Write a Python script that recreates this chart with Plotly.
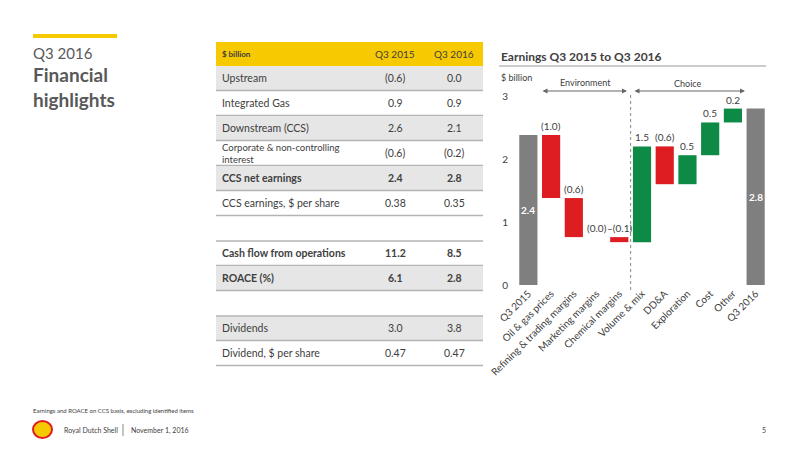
import plotly.graph_objects as go

# ---- data ----
steps = ["Q3 2015", "Oil & gas prices", "Refining & trading margins", "Marketing margins",
         "Chemical margins", "Volume & mix", "DD&A", "Exploration", "Cost", "Other", "Q3 2016"]
step_values = [2.38, -1.0, -0.62, 0.0, -0.08, 1.52, -0.6, 0.46, 0.52, 0.22, 0]
step_measure = ["absolute", "relative", "relative", "relative", "relative", "relative",
                "relative", "relative", "relative", "relative", "total"]
step_labels = ["2.4", "(1.0)", "(0.6)", "(0.0)", "–(0.1)", "1.5", "(0.6)", "0.5", "0.5", "0.2", "2.8"]

row_labels = ["Upstream", "Integrated Gas", "Downstream (CCS)", "Corporate & non-controlling<br>interest",
              "CCS net earnings", "CCS earnings, $ per share", None,
              "Cash flow from operations", "ROACE (%)", None, "Dividends", "Dividend, $ per share"]
col_q3_2015 = ["(0.6)", "0.9", "2.6", "(0.6)", "2.4", "0.38", None, "11.2", "6.1", None, "3.0", "0.47"]
col_q3_2016 = ["0.0", "0.9", "2.1", "(0.2)", "2.8", "0.35", None, "8.5", "2.8", None, "3.8", "0.47"]
row_bold = [False, False, False, False, True, False, None, True, True, None, False, False]
row_grey = [True, False, True, False, True, False, None, False, True, None, True, False]

FONT = "Lato"
TXT = "#404040"
W, H = 800, 450
def px(x): return x / W
def py(y): return 1 - y / H

fig = go.Figure()
fig.add_trace(go.Waterfall(
    x=steps, y=step_values, measure=step_measure,
    increasing=dict(marker=dict(color="#0e8a47")),
    decreasing=dict(marker=dict(color="#dd1d21")),
    totals=dict(marker=dict(color="#7f7f7f")),
    connector=dict(visible=False), cliponaxis=False, hoverinfo="skip",
))

shapes, ann = [], []
# value labels positioned from the running total
run = 0
for cat, v, m, lab in zip(steps, step_values, step_measure, step_labels):
    if m == "relative":
        top = max(run, run + v)
        run += v
        ann.append(dict(x=cat, y=top, xref="x", yref="y", xanchor="center", yanchor="bottom", yshift=1,
                        text=lab, font=dict(family=FONT, size=10, color=TXT)))
    else:
        if m == "absolute":
            run = v
        ann.append(dict(x=cat, y=run / 2, xref="x", yref="y", xanchor="center", yanchor="middle",
                        text=f"<b>{lab}</b>", font=dict(family=FONT, size=10, color="white")))

# left title block
shapes.append(dict(type="rect", xref="paper", yref="paper", x0=px(33), x1=px(117), y0=py(38), y1=py(34),
                   fillcolor="#f7c900", line_width=0))
ann.append(dict(x=px(31), y=py(53), text="Q3 2016", font=dict(family=FONT, size=15, color="#595959")))
ann.append(dict(x=px(31), y=py(87), text="<b>Financial<br>highlights</b>",
                font=dict(family=FONT, size=19, color="#595959")))

# table
tx0, tx1 = 216, 483
c1, c2 = 395, 454
shapes.append(dict(type="rect", xref="paper", yref="paper", x0=px(tx0), x1=px(tx1), y0=py(66), y1=py(42),
                   fillcolor="#f7c900", line_width=0))
ann.append(dict(x=px(220), y=py(54), text="<b>$ billion</b>", font=dict(family=FONT, size=8, color=TXT)))
ann.append(dict(x=px(c1), y=py(54), xanchor="center", text="Q3 2015", font=dict(family=FONT, size=10, color=TXT)))
ann.append(dict(x=px(c2), y=py(54), xanchor="center", text="Q3 2016", font=dict(family=FONT, size=10, color=TXT)))
y = 66
prev = "x"
for lab, a, b, bold, grey in zip(row_labels, col_q3_2015, col_q3_2016, row_bold, row_grey):
    if lab is None:
        y += 25
        prev = None
        continue
    top, bot = y, y + 24.5
    if grey:
        shapes.append(dict(type="rect", xref="paper", yref="paper", x0=px(tx0), x1=px(tx1), y0=py(bot), y1=py(top),
                           fillcolor="#e6e6e6", line_width=0))
    shapes.append(dict(type="line", xref="paper", yref="paper", x0=px(tx0), x1=px(tx1), y0=py(bot), y1=py(bot),
                       line=dict(color="#b4b4b4", width=1.5)))
    if prev is None:
        shapes.append(dict(type="line", xref="paper", yref="paper", x0=px(tx0), x1=px(tx1), y0=py(top), y1=py(top),
                           line=dict(color="#b4b4b4", width=1.5)))
    prev = lab
    cy = (top + bot) / 2
    f = lambda s: f"<b>{s}</b>" if bold else s
    small = "<br>" in lab
    ann.append(dict(x=px(220), y=py(cy), text=f(lab),
                    font=dict(family=FONT, size=9.5 if small else 10.5, color=TXT)))
    ann.append(dict(x=px(c1), y=py(cy), xanchor="center", text=f(a), font=dict(family=FONT, size=10.5, color=TXT)))
    ann.append(dict(x=px(c2), y=py(cy), xanchor="center", text=f(b), font=dict(family=FONT, size=10.5, color=TXT)))
    y = bot + 0.5

# chart decorations
ann.append(dict(x=px(499), y=py(56), text="<b>Earnings Q3 2015 to Q3 2016</b>",
                font=dict(family=FONT, size=12, color=TXT)))
shapes.append(dict(type="line", xref="paper", yref="paper", x0=px(499), x1=px(766), y0=py(66), y1=py(66),
                   line=dict(color="#999999", width=1)))
ann.append(dict(x=px(499), y=py(77), text="$ billion", font=dict(family=FONT, size=9, color=TXT)))
ann.append(dict(x=px(585), y=py(83), xanchor="center", text="Environment", font=dict(family=FONT, size=9, color=TXT)))
ann.append(dict(x=px(688), y=py(84), xanchor="center", text="Choice", font=dict(family=FONT, size=9, color=TXT)))
for xa, xb in [(539, 627), (631, 745)]:
    ann.append(dict(x=px(xb), y=py(91), ax=xa - xb, ay=0, axref="pixel", ayref="pixel", xref="paper",
                    yref="paper", text="", showarrow=True, arrowhead=2, arrowside="end+start",
                    arrowsize=1, arrowwidth=1, arrowcolor="#666666"))
shapes.append(dict(type="line", xref="x", yref="paper", x0=4.5, x1=4.5, y0=py(290), y1=py(93),
                   line=dict(color="#888888", width=1, dash="dot")))

# footer
ann.append(dict(x=px(31), y=py(410), text="Earnings and ROACE on CCS basis, excluding identified items",
                font=dict(family=FONT, size=6, color=TXT)))
shapes.append(dict(type="circle", xref="paper", yref="paper", x0=px(33), x1=px(52), y0=py(438), y1=py(421),
                   fillcolor="#f7c900", line=dict(color="#dd1d21", width=2)))
ann.append(dict(x=px(62), y=py(430), text="Royal Dutch Shell", font=dict(family=FONT, size=7, color=TXT)))
shapes.append(dict(type="line", xref="paper", yref="paper", x0=px(123), x1=px(123), y0=py(436), y1=py(424),
                   line=dict(color="#888888", width=1)))
ann.append(dict(x=px(129), y=py(430), text="November 1, 2016", font=dict(family=FONT, size=7, color=TXT)))
ann.append(dict(x=px(768), y=py(430), xanchor="right", text="5", font=dict(family=FONT, size=7, color=TXT)))

for a in ann:
    a.setdefault("xref", "paper"); a.setdefault("yref", "paper")
    a.setdefault("showarrow", False); a.setdefault("xanchor", "left"); a.setdefault("yanchor", "middle")
    a.setdefault("align", "left")

fig.update_layout(
    width=W, height=H, margin=dict(l=0, r=0, t=0, b=0),
    paper_bgcolor="white", plot_bgcolor="white", showlegend=False,
    shapes=shapes, annotations=ann, bargap=0.34,
    xaxis=dict(domain=[px(517), px(767)], tickangle=-45, showline=False, ticks="", automargin=False,
               tickfont=dict(family=FONT, size=10, color=TXT)),
    yaxis=dict(domain=[py(285), py(96)], range=[0, 3], tickvals=[0, 1, 2, 3], showgrid=False, automargin=False,
               zeroline=False, ticks="", ticklabelstandoff=8, tickfont=dict(family=FONT, size=10, color=TXT)),
    font=dict(family=FONT, color=TXT),
)
fig.write_html("out.html", config={"displayModeBar": False},
               post_script="document.body.style.margin='0';")
